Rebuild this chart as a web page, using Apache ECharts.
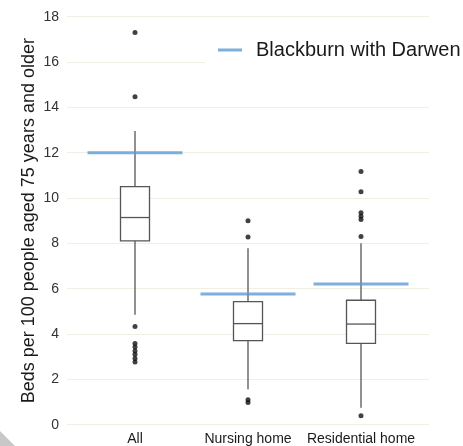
<!DOCTYPE html>
<html>
<head>
<meta charset="utf-8">
<script src="https://cdn.jsdelivr.net/npm/echarts@6/dist/echarts.min.js"></script>
<style>html,body{margin:0;padding:0;background:#fff;}#c{width:463px;height:446px;}</style>
</head>
<body>
<div id="c"></div>
<script>
var categories = ['All', 'Nursing home', 'Residential home'];
// [lower whisker, Q1, median, Q3, upper whisker]
var boxAll = [4.85, 8.11, 9.14, 10.50, 12.96];
var boxNursing = [1.56, 3.71, 4.46, 5.43, 7.78];
var boxResidential = [0.75, 3.59, 4.44, 5.49, 8.00];
var outliersAll = [17.30, 14.47, 4.33, 3.58, 3.43, 3.25, 3.10, 2.92, 2.77];
var outliersNursing = [9.00, 8.28, 1.10, 0.98];
var outliersResidential = [11.17, 10.28, 9.35, 9.20, 9.05, 8.30, 0.40];
var blackburn = [12.00, 5.77, 6.21];
var yTicks = [0, 2, 4, 6, 8, 10, 12, 14, 16, 18];
var seriesName = 'Blackburn with Darwen';
var yTitle = 'Beds per 100 people aged 75 years and older';

var font = 'Liberation Sans, Arial, sans-serif';
var outlierData = [];
[outliersAll, outliersNursing, outliersResidential].forEach(function (arr, i) {
  arr.forEach(function (v) { outlierData.push([i, v]); });
});
var boxData = [boxAll, boxNursing, boxResidential].map(function (b, i) {
  return [i].concat(b);
});

var BOX_W = 29;
var strokeCol = '#555';
function renderBox(params, api) {
  var x = api.coord([api.value(0), 0])[0];
  var yLo = api.coord([api.value(0), api.value(1)])[1];
  var yQ1 = api.coord([api.value(0), api.value(2)])[1];
  var yMed = api.coord([api.value(0), api.value(3)])[1];
  var yQ3 = api.coord([api.value(0), api.value(4)])[1];
  var yHi = api.coord([api.value(0), api.value(5)])[1];
  var h = BOX_W / 2;
  var ls = {stroke: strokeCol, lineWidth: 1.3, fill: null};
  return {
    type: 'group',
    children: [
      {type: 'line', shape: {x1: x, y1: yHi, x2: x, y2: yQ3}, style: ls},
      {type: 'line', shape: {x1: x, y1: yQ1, x2: x, y2: yLo}, style: ls},
      {type: 'rect', shape: {x: x - h, y: yQ3, width: BOX_W, height: yQ1 - yQ3},
        style: {stroke: strokeCol, lineWidth: 1.3, fill: '#fff'}},
      {type: 'line', shape: {x1: x - h, y1: yMed, x2: x + h, y2: yMed}, style: ls}
    ]
  };
}

var chart = echarts.init(document.getElementById('c'), null, {renderer: 'canvas'});
chart.setOption({
  animation: false,
  backgroundColor: '#fff',
  textStyle: {fontFamily: font},
  grid: [
    {left: 67, right: 34, top: 16.7, bottom: 21.3},
    {left: 78.5, right: 45.5, top: 16.7, bottom: 21.3}
  ],
  legend: {
    data: [{name: seriesName, icon: 'rect'}],
    left: 205, top: 35,
    padding: [5, 40, 18, 13],
    backgroundColor: '#fff',
    itemWidth: 24, itemHeight: 3,
    textStyle: {fontSize: 20, color: '#1a1a1a', fontFamily: font, padding: [0, 0, 0, 9]}
  },
  xAxis: [
    {gridIndex: 0, type: 'value', min: 0, max: 1, show: false},
    {gridIndex: 1, type: 'category', data: categories,
      axisLine: {show: false}, axisTick: {show: false},
      axisLabel: {fontSize: 14, color: '#1a1a1a', margin: 7, fontFamily: font, interval: 0},
      splitLine: {show: false}}
  ],
  yAxis: [
    {gridIndex: 0, type: 'value', min: yTicks[0], max: yTicks[yTicks.length - 1], interval: 2,
      axisLine: {show: false}, axisTick: {show: false},
      axisLabel: {fontSize: 14, color: '#333', margin: 8, fontFamily: font},
      splitLine: {show: true, lineStyle: {color: '#efefe6', width: 1}},
      name: yTitle, nameLocation: 'middle', nameGap: 29, nameRotate: 90,
      nameMoveOverlap: false,
      nameTextStyle: {fontSize: 18, color: '#1a1a1a', fontFamily: font}},
    {gridIndex: 1, type: 'value', min: yTicks[0], max: yTicks[yTicks.length - 1], show: false}
  ],
  series: [
    {
      type: 'custom', xAxisIndex: 1, yAxisIndex: 1,
      data: boxData, renderItem: renderBox,
      encode: {x: 0, y: [1, 2, 3, 4, 5]}, z: 3
    },
    {
      type: 'scatter', xAxisIndex: 1, yAxisIndex: 1,
      data: outlierData, symbol: 'circle', symbolSize: 5,
      itemStyle: {color: '#111'}, z: 4
    },
    {
      name: seriesName, type: 'scatter', xAxisIndex: 1, yAxisIndex: 1,
      data: blackburn.map(function (v, i) { return [i, v]; }),
      symbol: 'rect', symbolSize: [95, 3],
      itemStyle: {color: '#5b9bd5'}, z: 5
    },
    {
      type: 'line', xAxisIndex: 0, yAxisIndex: 0, data: [], silent: true
    }
  ],
  graphic: [{
    type: 'polygon', silent: true,
    shape: {points: [[0, 431], [0, 446], [15, 446]]},
    style: {fill: '#c8c8c8'}
  }]
});
</script>
</body>
</html>
